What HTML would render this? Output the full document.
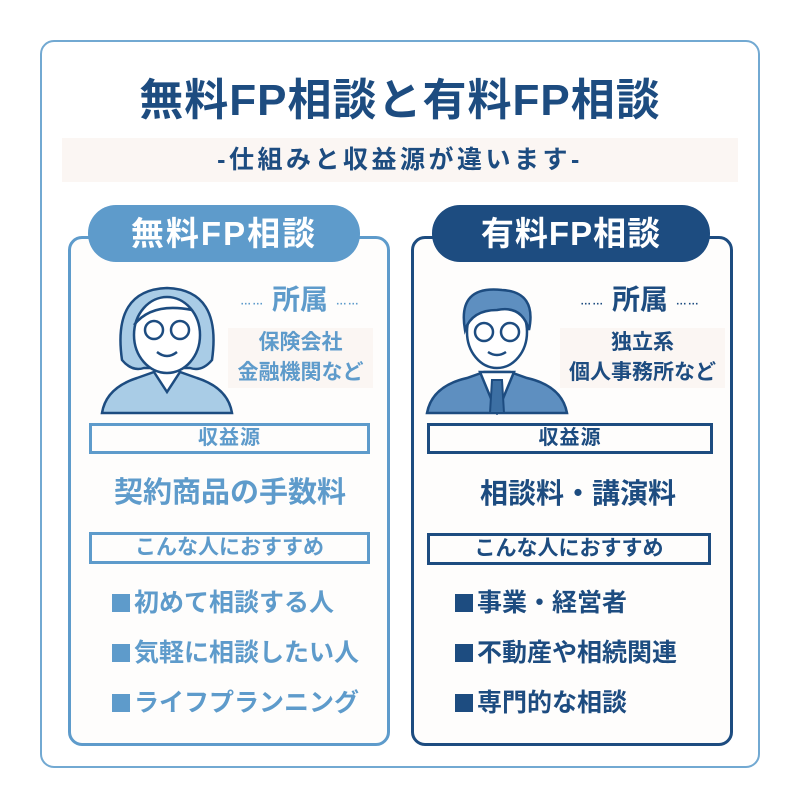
<!DOCTYPE html><html><head><meta charset="utf-8"><style>
*{margin:0;padding:0;box-sizing:border-box}
body{width:800px;height:800px;background:#fff;position:relative;overflow:hidden;font-family:"Liberation Sans","Noto Sans CJK JP",sans-serif;font-weight:bold}
.a{position:absolute}
.c{text-align:center;white-space:nowrap}
.L{color:#5e9bcb}.D{color:#1d4c80}
.sq{display:inline-block;width:18px;height:18px;background:currentColor;margin-right:4px;vertical-align:-1px}
.it{white-space:nowrap;font-size:25px;line-height:34px}
</style></head><body>
<div class="a" style="left:40px;top:40px;width:720px;height:728px;border:2px solid #72a9d2;border-radius:14px"></div>
<div class="a c D" style="left:40px;top:74px;width:720px;font-size:44px;line-height:54px;letter-spacing:1px">無料FP相談と有料FP相談</div>
<div class="a" style="left:62px;top:138px;width:676px;height:44px;background:#fbf6f3"></div>
<div class="a c D" style="left:40px;top:143px;width:720px;font-size:25px;line-height:34px;letter-spacing:3.5px">-仕組みと収益源が違います-</div>

<!-- left card -->
<div class="a" style="left:68px;top:236px;width:322px;height:510px;border:3px solid #5e9bcb;border-radius:14px;background:#fefdfc"></div>
<div class="a c" style="left:88px;top:205px;width:272px;height:57px;background:#5e9bcb;border-radius:28px;color:#fff;font-size:33px;line-height:57px;letter-spacing:2px">無料FP相談</div>
<svg class="a" style="left:92px;top:280px" width="150" height="135" viewBox="0 0 150 135">
<path d="M10 133 Q14 108 45 98 L62 92 L88 92 L105 98 Q136 108 140 133Z" fill="#a9cce6" stroke="#1d4c80" stroke-width="2.5"/>
<path d="M62 92 L75 112 L88 92" fill="#fff" stroke="#1d4c80" stroke-width="2.5"/>
<path d="M30 80 Q20 10 75 8 Q130 10 120 80 Q110 92 98 88 L52 88 Q40 92 30 80Z" fill="#a9cce6" stroke="#1d4c80" stroke-width="2.5"/>
<ellipse cx="75" cy="55" rx="33" ry="38" fill="#fff" stroke="#1d4c80" stroke-width="2.5"/>
<path d="M42 45 Q60 22 100 30" fill="none" stroke="#1d4c80" stroke-width="2.5"/>
<circle cx="62" cy="50" r="9" fill="none" stroke="#1d4c80" stroke-width="2.5"/><circle cx="88" cy="50" r="9" fill="none" stroke="#1d4c80" stroke-width="2.5"/>
<path d="M65 72 Q75 80 85 72" fill="none" stroke="#1d4c80" stroke-width="2.5"/>
</svg>
<div class="a c L" style="left:220px;top:281px;width:160px;font-size:28px;line-height:38px"><span style="font-size:11px;letter-spacing:1px;vertical-align:middle">……</span> 所属 <span style="font-size:11px;letter-spacing:1px;vertical-align:middle">……</span></div>
<div class="a c L" style="left:228px;top:328px;width:145px;font-size:21px;line-height:30px;background:#fbf6f3">保険会社<br>金融機関など</div>
<div class="a c L" style="left:89px;top:423px;width:281px;height:31px;border:3px solid #5e9bcb;font-size:20px;line-height:25px;letter-spacing:1px">収益源</div>
<div class="a c L" style="left:90px;top:473px;width:280px;font-size:29px;line-height:40px">契約商品の手数料</div>
<div class="a c L" style="left:89px;top:532px;width:281px;height:32px;border:3px solid #5e9bcb;font-size:21px;line-height:26px">こんな人におすすめ</div>
<div class="a L it" style="left:112px;top:586px"><span class="sq"></span>初めて相談する人</div>
<div class="a L it" style="left:112px;top:636px"><span class="sq"></span>気軽に相談したい人</div>
<div class="a L it" style="left:112px;top:686px"><span class="sq"></span>ライフプランニング</div>

<!-- right card -->
<div class="a" style="left:411px;top:236px;width:322px;height:510px;border:3px solid #1d4c80;border-radius:14px;background:#fefdfc"></div>
<div class="a c" style="left:432px;top:205px;width:278px;height:57px;background:#1d4c80;border-radius:28px;color:#fff;font-size:33px;line-height:57px;letter-spacing:1px">有料FP相談</div>
<svg class="a" style="left:422px;top:280px" width="150" height="135" viewBox="0 0 150 135">
<path d="M5 133 Q10 106 45 98 L62 92 L88 92 L105 98 Q140 106 145 133Z" fill="#5e8fc0" stroke="#1d4c80" stroke-width="2.5"/>
<path d="M58 92 L75 133 L92 92Z" fill="#fff" stroke="#1d4c80" stroke-width="2.5"/>
<path d="M70 100 L80 100 L82 133 L68 133Z" fill="#3c6fa3" stroke="#1d4c80" stroke-width="2"/>
<ellipse cx="75" cy="52" rx="30" ry="36" fill="#fff" stroke="#1d4c80" stroke-width="2.5"/>
<path d="M43 50 Q35 5 80 10 Q115 12 107 50 Q100 25 75 30 Q50 30 43 50Z" fill="#5e8fc0" stroke="#1d4c80" stroke-width="2.5"/>
<circle cx="62" cy="52" r="9" fill="none" stroke="#1d4c80" stroke-width="2.5"/><circle cx="88" cy="52" r="9" fill="none" stroke="#1d4c80" stroke-width="2.5"/>
<path d="M66 72 Q75 78 84 72" fill="none" stroke="#1d4c80" stroke-width="2.5"/>
</svg>
<div class="a c D" style="left:555px;top:281px;width:170px;font-size:28px;line-height:38px"><span style="font-size:11px;letter-spacing:1px;vertical-align:middle">……</span> 所属 <span style="font-size:11px;letter-spacing:1px;vertical-align:middle">……</span></div>
<div class="a c D" style="left:560px;top:328px;width:165px;font-size:21px;line-height:30px;background:#fbf6f3">独立系<br>個人事務所など</div>
<div class="a c D" style="left:427px;top:423px;width:286px;height:31px;border:3px solid #1d4c80;font-size:20px;line-height:25px;letter-spacing:1px">収益源</div>
<div class="a c D" style="left:435px;top:474px;width:286px;font-size:28px;line-height:40px">相談料・講演料</div>
<div class="a c D" style="left:427px;top:533px;width:284px;height:32px;border:3px solid #1d4c80;font-size:21px;line-height:26px">こんな人におすすめ</div>
<div class="a D it" style="left:455px;top:586px"><span class="sq"></span>事業・経営者</div>
<div class="a D it" style="left:455px;top:636px"><span class="sq"></span>不動産や相続関連</div>
<div class="a D it" style="left:455px;top:686px"><span class="sq"></span>専門的な相談</div>
</body></html>
